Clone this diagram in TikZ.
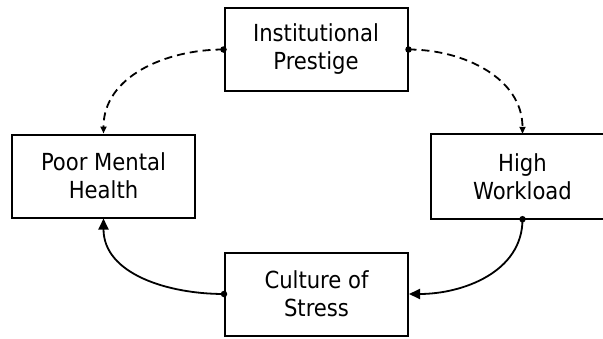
\documentclass[tikz,border=0pt]{standalone}
\usepackage{fontspec}
\setmainfont{DejaVu Sans Condensed}
\usetikzlibrary{arrows.meta}
\begin{document}
\begin{tikzpicture}[x=1pt,y=-1pt,
  box/.style={draw, line width=2pt, minimum width=183pt, minimum height=83pt, align=center, font=\fontsize{23.5}{28}\selectfont, inner sep=0pt},
  txt/.style={align=center, font=\fontsize{23.5}{28}\selectfont, inner sep=0pt},
  conn/.style={line width=1.8pt},
  dsh/.style={conn, dash pattern=on 8pt off 5pt, -{Triangle[length=7pt,width=6pt]}},
  sol/.style={conn, -{Triangle[length=11pt,width=10pt]}},
  dotc/.style={circle, fill=black, inner sep=0pt, minimum size=6.5pt}]
\useasboundingbox (0,0) rectangle (603,338);
\node[box] (ip) at (316,49.5) {Institutional\\Prestige};
\node[box] (pmh) at (103.5,176) {Poor Mental\\Health};
\node[txt, minimum width=183pt, minimum height=85pt] (hw) at (522.5,176.5) {High\\Workload};
\draw[line width=2pt] (hw.north east) ++(10,0) -- (hw.north west) -- (hw.south west) -- ++(193,0);
\node[box] (cs) at (316.5,294) {Culture of\\Stress};
\coordinate (a1) at (ip.west);
\coordinate (a2) at (ip.east);
\coordinate (a3) at (hw.south);
\coordinate (a4) at (cs.west);
\draw[dsh] (a1) to[out=180,in=90] (pmh.north);
\draw[dsh] (a2) to[out=0,in=90] (hw.north);
\draw[sol] (a3) to[out=-90,in=0] (cs.east);
\draw[sol] (a4) to[out=180,in=-90] (pmh.south);
\node[dotc] (d1) at (a1) {};
\node[dotc] (d2) at (a2) {};
\node[dotc] (d3) at (a3) {};
\node[dotc] (d4) at (a4) {};
\end{tikzpicture}
\end{document}
